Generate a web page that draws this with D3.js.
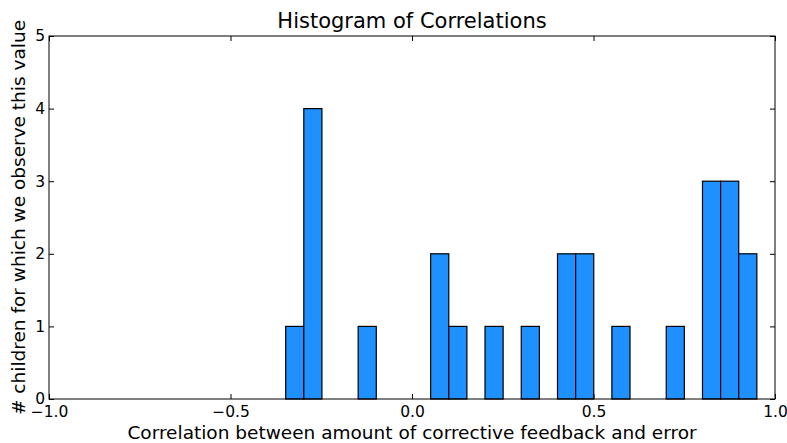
<!DOCTYPE html>
<html><head><meta charset="utf-8">
<script src="https://cdn.jsdelivr.net/npm/d3@7"></script>
<style>body{margin:0;background:#fff}svg{display:block}text{font-family:"DejaVu Sans",sans-serif;fill:#000}</style>
</head><body>
<svg id="c" width="787" height="443"></svg>
<script>
const binStart = -0.348;
const binEnd = 0.950;
const counts = [1,4,0,0,1,0,0,0,2,1,0,1,0,1,0,2,2,0,1,0,0,1,0,3,3,2];
const xTicks = [-1.0,-0.5,0.0,0.5,1.0];
const yTicks = [0,1,2,3,4,5];
const title = "Histogram of Correlations";
const xLabel = "Correlation between amount of corrective feedback and error";
const yLabel = "# children for which we observe this value";

const svg = d3.select("#c");
const m = {l:49, r:775, t:36, b:399};
const x = d3.scaleLinear().domain([-1,1]).range([m.l,m.r]);
const y = d3.scaleLinear().domain([0,5]).range([m.b,m.t]);
const w = (binEnd-binStart)/counts.length;
const bins = counts.map((c,i)=>({x0:binStart+i*w, x1:binStart+(i+1)*w, c}));

svg.append("g").selectAll("rect").data(bins.filter(d=>d.c>0)).join("rect")
  .attr("x",d=>x(d.x0)).attr("width",d=>x(d.x1)-x(d.x0))
  .attr("y",d=>y(d.c)).attr("height",d=>y(0)-y(d.c))
  .attr("fill","#1E90FF").attr("stroke","#000").attr("stroke-width",1.2);

const fmt = d=>d3.format(".1f")(d).replace("-","\u2212");
const ax = svg.append("g").attr("transform",`translate(0,${m.b})`)
  .call(d3.axisBottom(x).tickValues(xTicks).tickFormat(fmt).tickSizeInner(-5).tickSizeOuter(0).tickPadding(7));
const axt = svg.append("g").attr("transform",`translate(0,${m.t})`)
  .call(d3.axisTop(x).tickValues(xTicks).tickFormat("").tickSizeInner(-5).tickSizeOuter(0));
const ay = svg.append("g").attr("transform",`translate(${m.l},0)`)
  .call(d3.axisLeft(y).tickValues(yTicks).tickFormat(d3.format("d")).tickSizeInner(-5).tickSizeOuter(0).tickPadding(4));
const ayr = svg.append("g").attr("transform",`translate(${m.r},0)`)
  .call(d3.axisRight(y).tickValues(yTicks).tickFormat("").tickSizeInner(-5).tickSizeOuter(0));
[ax,axt,ay,ayr].forEach(g=>{
  g.select(".domain").remove();
  g.selectAll("line").attr("stroke","#000");
  g.selectAll("text").attr("font-size",15.5).attr("font-family","DejaVu Sans").attr("fill","#000");
});
svg.append("rect").attr("x",m.l).attr("y",m.t).attr("width",m.r-m.l).attr("height",m.b-m.t)
  .attr("fill","none").attr("stroke","#000").attr("stroke-width",1);

svg.append("text").attr("x",(m.l+m.r)/2).attr("y",28).attr("text-anchor","middle").attr("font-size",21).text(title);
svg.append("text").attr("x",(m.l+m.r)/2).attr("y",439).attr("text-anchor","middle").attr("font-size",18.5).text(xLabel);
svg.append("text").attr("transform",`translate(25,${(m.t+m.b)/2}) rotate(-90)`).attr("text-anchor","middle").attr("font-size",18.5).text(yLabel);
</script>
</body></html>
